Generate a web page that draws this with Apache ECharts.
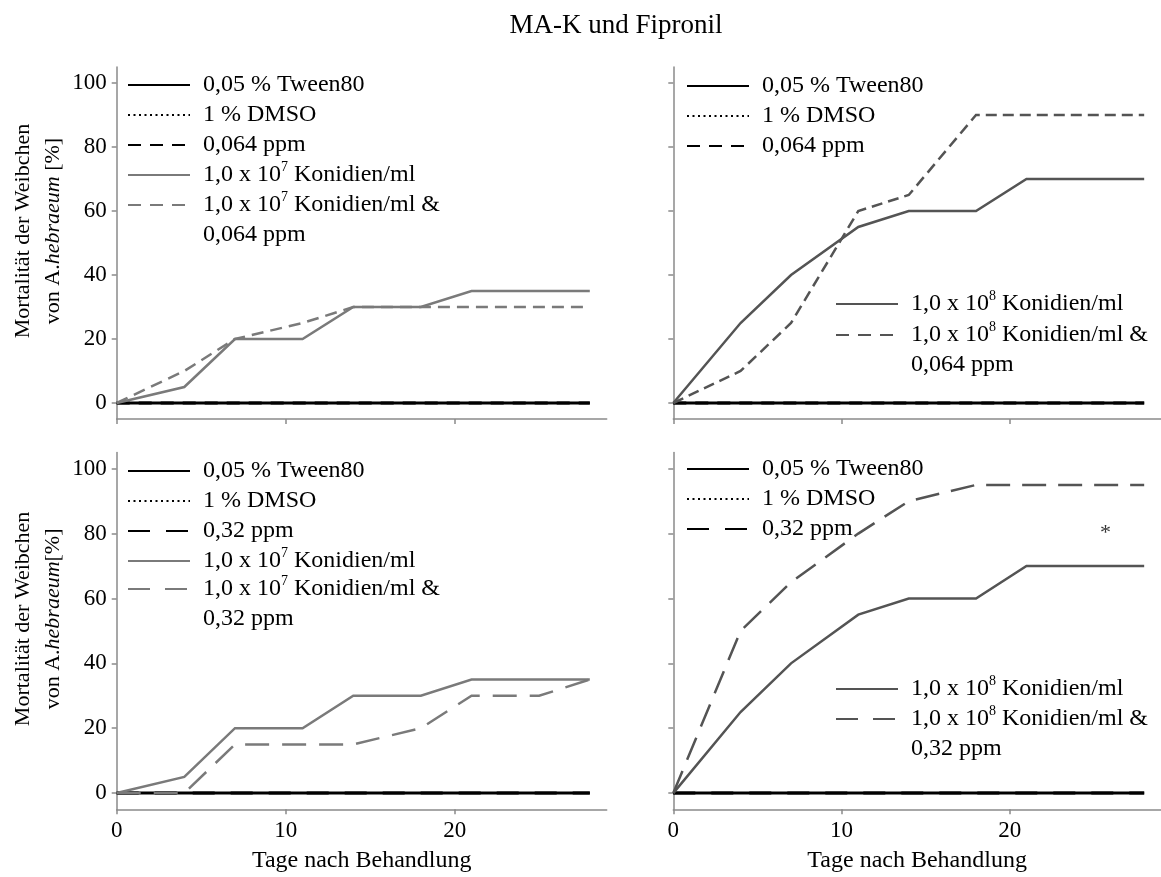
<!DOCTYPE html>
<html>
<head>
<meta charset="utf-8">
<script src="https://cdn.jsdelivr.net/npm/echarts@6/dist/echarts.min.js"></script>
<style>
  html, body { margin: 0; padding: 0; background: #fff; }
  #chart { width: 1161px; height: 877px; }
</style>
</head>
<body>
<div id="chart"></div>
<script>
// ---- data -------------------------------------------------------------
// Tage nach Behandlung
const days = [0, 4, 7, 11, 14, 18, 21, 25, 28];
const xTicks = [0, 10, 20];
const yTicks = [0, 20, 40, 60, 80, 100];

// Kontrollen: keine Mortalität
const tween80 = [0, 0, 0, 0, 0, 0, 0, 0, 0];
const dmso = [0, 0, 0, 0, 0, 0, 0, 0, 0];
const fipronilLow = [0, 0, 0, 0, 0, 0, 0, 0, 0];   // 0,064 ppm
const fipronilHigh = [0, 0, 0, 0, 0, 0, 0, 0, 0];  // 0,32 ppm

// MA-K 1,0 x 10^7 / 10^8 Konidien/ml allein und kombiniert (Mortalität in %)
const k7WithLow = [0, 5, 20, 20, 30, 30, 35, 35, 35];
const k7PlusLow = [0, 10, 20, 25, 30, 30, 30, 30, 30];
const k8WithLow = [0, 25, 40, 55, 60, 60, 70, 70, 70];
const k8PlusLow = [0, 10, 25, 60, 65, 90, 90, 90, 90];
const k7WithHigh = [0, 5, 20, 20, 30, 30, 35, 35, 35];
const k7PlusHigh = [0, 0, 15, 15, 15, 20, 30, 30, 35];
const k8WithHigh = [0, 25, 40, 55, 60, 60, 70, 70, 70];
const k8PlusHigh = [0, 50, 65, 80, 90, 95, 95, 95, 95];

// signifikanter Unterschied (Tag, Mortalität)
const significance = [[25.7, 80]];

// ---- names & styles --------------------------------------------------
const SERIF = "'Liberation Serif', 'Times New Roman', Times, serif";
const AXIS = '#8a8a8a';
const BLACK = '#000000';
const GREY = '#7a7a7a';
const DARK = '#545454';

const N = {
  tween: '0,05 % Tween80',
  dmso: '1 % DMSO',
  low: '0,064 ppm',
  high: '0,32 ppm',
  k7: '1,0 x 10⁷ Konidien/ml',
  k8: '1,0 x 10⁸ Konidien/ml',
  k7low: '1,0 x 10⁷ Konidien/ml &\n0,064 ppm',
  k7high: '1,0 x 10⁷ Konidien/ml &\n0,32 ppm',
  k8low: '1,0 x 10⁸ Konidien/ml &\n0,064 ppm',
  k8high: '1,0 x 10⁸ Konidien/ml &\n0,32 ppm'
};

const STY = {
  tween: { color: BLACK, width: 3, type: 'solid' },
  dmso: { color: BLACK, width: 2, type: [2, 3.5] },
  low: { color: BLACK, width: 3, type: [13, 9] },
  high: { color: BLACK, width: 3, type: [22, 16] },
  k7: { color: GREY, width: 2.5, type: 'solid' },
  k7low: { color: GREY, width: 2.5, type: [12, 7] },
  k7high: { color: GREY, width: 2.5, type: [24, 13] },
  k8: { color: DARK, width: 2.5, type: 'solid' },
  k8low: { color: DARK, width: 2.5, type: [11, 6] },
  k8high: { color: DARK, width: 2.5, type: [24, 12] }
};
// dash patterns of the legend samples
const LEG_DASH = {
  low: [13, 9], high: [22, 16], k7low: [13, 9], k7high: [22, 15],
  k8low: [13, 9], k8high: [22, 15]
};

const pairs = v => days.map((d, i) => [d, v[i]]);

function line(key, values, gi) {
  return {
    type: 'line', name: N[key], xAxisIndex: gi, yAxisIndex: gi,
    data: pairs(values), symbol: 'none', silent: true,
    lineStyle: { color: STY[key].color, width: STY[key].width, type: STY[key].type, cap: 'butt', join: 'miter' },
    itemStyle: { color: STY[key].color }
  };
}

// ---- layout ----------------------------------------------------------
const grids = [
  { left: 116.7, top: 67, width: 490, height: 352 },
  { left: 673.3, top: 67, width: 490, height: 352 },
  { left: 116.7, top: 452.5, width: 490, height: 356.8 },
  { left: 673.3, top: 452.5, width: 490, height: 356.8 }
];

const tickFont = { fontFamily: SERIF, fontSize: 23, color: BLACK };

const xAxes = grids.map((g, i) => ({
  type: 'value', gridIndex: i, min: 0, max: 29,
  axisLine: { show: true, onZero: false, lineStyle: { color: AXIS, width: 1.5 } },
  axisTick: { show: true, length: 5, customValues: xTicks, lineStyle: { color: AXIS, width: 1.5 } },
  axisLabel: Object.assign({ show: i >= 2, customValues: xTicks, margin: 10 }, tickFont),
  splitLine: { show: false },
  name: i >= 2 ? 'Tage nach Behandlung' : '',
  nameLocation: 'middle', nameGap: 39,
  nameTextStyle: { fontFamily: SERIF, fontSize: 24, color: BLACK }
}));

const yNames = [
  'Mortalität der Weibchen\nvon A.{i|hebraeum} [%]', '',
  'Mortalität der Weibchen\nvon A.{i|hebraeum}[%]', ''
];

const yAxes = grids.map((g, i) => ({
  type: 'value', gridIndex: i, min: -5, max: 105,
  axisLine: { show: true, onZero: false, lineStyle: { color: AXIS, width: 1.5 } },
  axisTick: { show: true, length: 5, customValues: yTicks, lineStyle: { color: AXIS, width: 1.5 } },
  axisLabel: Object.assign({ show: i % 2 === 0, customValues: yTicks, margin: 10 }, tickFont),
  splitLine: { show: false },
  name: yNames[i], nameLocation: 'middle', nameGap: 47,
  nameTextStyle: {
    fontFamily: SERIF, fontSize: 22, color: BLACK, lineHeight: 30, padding: [0, 0, 0, 24],
    rich: { i: { fontFamily: SERIF, fontSize: 22, fontStyle: 'italic', lineHeight: 30, color: BLACK } }
  }
}));

// ---- legends ---------------------------------------------------------
const LEG_LH = 30;
function legend(keys, left, top) {
  return {
    orient: 'vertical', left: left, top: top, padding: 0, itemGap: 0,
    itemWidth: 62, itemHeight: 14, selectedMode: false,
    itemStyle: { opacity: 0 },
    textStyle: {
      fontFamily: SERIF, fontSize: 24, color: BLACK, lineHeight: LEG_LH, padding: [0, 0, 0, 8],
      rich: { sup: { fontFamily: SERIF, fontSize: 14, lineHeight: 23, verticalAlign: 'top', color: BLACK } }
    },
    formatter: name => name.replace('⁷', '{sup|7}').replace('⁸', '{sup|8}'),
    data: keys.map(k => {
      const item = { name: N[k] };
      if (LEG_DASH[k]) item.lineStyle = { type: LEG_DASH[k] };
      // two-line entries: keep the sample beside the first line
      if (N[k].indexOf('\n') >= 0) item.textStyle = { padding: [LEG_LH, 0, 0, 8] };
      return item;
    })
  };
}

const option = {
  animation: false,
  backgroundColor: '#ffffff',
  title: {
    text: 'MA-K und Fipronil', left: 616, top: 12, padding: 0, textAlign: 'center',
    textStyle: { fontFamily: SERIF, fontSize: 27, fontWeight: 'normal', color: BLACK }
  },
  grid: grids,
  xAxis: xAxes,
  yAxis: yAxes,
  legend: [
    legend(['tween', 'dmso', 'low', 'k7'], 127, 70),
    legend(['k7low'], 127, 160),
    legend(['tween', 'dmso', 'low'], 686, 71),
    legend(['k8'], 835, 289),
    legend(['k8low'], 835, 290),
    legend(['tween', 'dmso', 'high', 'k7'], 127, 456),
    legend(['k7high'], 127, 544),
    legend(['tween', 'dmso', 'high'], 686, 454),
    legend(['k8'], 835, 674),
    legend(['k8high'], 835, 674)
  ],
  series: [
    line('tween', tween80, 0), line('dmso', dmso, 0), line('low', fipronilLow, 0),
    line('k7', k7WithLow, 0), line('k7low', k7PlusLow, 0),

    line('tween', tween80, 1), line('dmso', dmso, 1), line('low', fipronilLow, 1),
    line('k8', k8WithLow, 1), line('k8low', k8PlusLow, 1),

    line('tween', tween80, 2), line('dmso', dmso, 2), line('high', fipronilHigh, 2),
    line('k7', k7WithHigh, 2), line('k7high', k7PlusHigh, 2),

    line('tween', tween80, 3), line('dmso', dmso, 3), line('high', fipronilHigh, 3),
    line('k8', k8WithHigh, 3), line('k8high', k8PlusHigh, 3),

    {
      type: 'scatter', name: 'Signifikanz', xAxisIndex: 3, yAxisIndex: 3,
      data: significance, symbolSize: 0, silent: true,
      label: { show: true, position: 'inside', formatter: '*', fontFamily: SERIF, fontSize: 22, color: BLACK }
    }
  ]
};

const chart = echarts.init(document.getElementById('chart'), null, { renderer: 'canvas' });
chart.setOption(option);
</script>
</body>
</html>
